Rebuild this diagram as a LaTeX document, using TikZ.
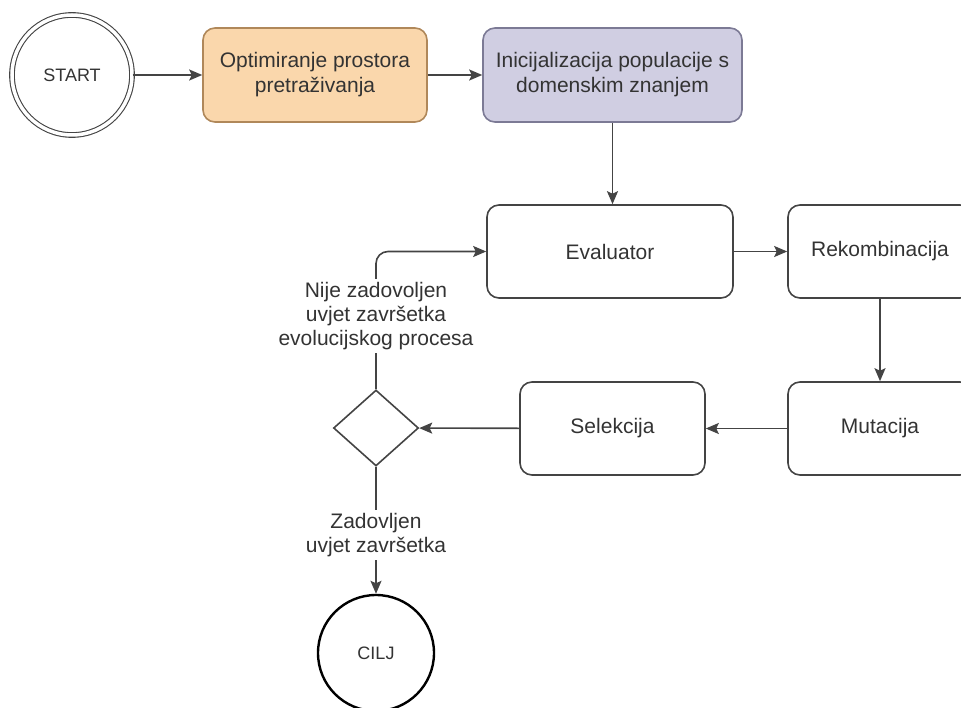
\documentclass[tikz,border=0pt]{standalone}
\usepackage{fontspec}
\setmainfont{Liberation Sans}
\usetikzlibrary{shapes.geometric,arrows.meta}
\definecolor{txt}{HTML}{333333}
\definecolor{ln}{HTML}{444444}
\definecolor{orfill}{HTML}{FAD7AC}
\definecolor{ordraw}{HTML}{B0885A}
\definecolor{pufill}{HTML}{D0CEE2}
\definecolor{pudraw}{HTML}{7C7A95}
\tikzset{
  box/.style={draw=ln, line width=1.6pt, rounded corners=12pt, minimum height=93pt, align=center, text=txt, font=\fontsize{21}{25}\selectfont, inner sep=2pt},
  arr/.style={draw=ln, line width=1.6pt, -{Stealth[length=13pt,width=11pt,inset=2.5pt]}},
  lbl/.style={fill=white, align=center, text=txt, font=\fontsize{21}{24}\selectfont, inner sep=3pt},
}
\begin{document}
\begin{tikzpicture}[x=1pt,y=-1pt]
\useasboundingbox (0,0) rectangle (961,708);
\clip (0,0) rectangle (961,708);
\node[circle, draw=ln, line width=1.1pt, double, double distance=3.5pt, minimum size=120pt, text=txt, font=\fontsize{18}{21}\selectfont] (start) at (72,75) {START};
\node[box, fill=orfill, draw=ordraw, minimum width=224pt, minimum height=94pt] (opt) at (315,75) {Optimiranje prostora\\pretraživanja};
\node[box, fill=pufill, draw=pudraw, minimum width=259pt, minimum height=94pt] (ini) at (612.5,75) {Inicijalizacija populacije s\\domenskim znanjem};
\node[box, minimum width=246pt] (eval) at (610,251.5) {Evaluator};
\node[box, minimum width=184pt] (rek) at (880,251.5) {Rekombinacija};
\node[box, minimum width=184pt] (mut) at (880,428.5) {Mutacija};
\node[box, minimum width=185pt] (sel) at (612.5,428.5) {Selekcija};
\node[diamond, draw=ln, line width=1.6pt, minimum width=85pt, minimum height=76pt, inner sep=0pt] (dia) at (376,428) {};
\node[circle, draw=black, line width=2.4pt, minimum size=116pt, text=txt, font=\fontsize{18}{21}\selectfont] (cilj) at (376,653) {CILJ};

\draw[arr] (start) -- (opt);
\draw[arr] (opt) -- (ini);
\draw[arr] (ini.south) -- (ini.south |- eval.north);
\draw[arr] (eval) -- (rek);
\draw[arr] (rek) -- (mut);
\draw[arr] (mut) -- (sel);
\draw[arr] (sel) -- (dia);
\draw[arr, rounded corners=12pt] (dia.north) |- (eval.west);
\draw[arr] (dia.south) -- (cilj.north);
\node[lbl] (l1) at (376,316) {Nije zadovoljen\\uvjet završetka\\evolucijskog procesa};
\node[lbl] (l2) at (376,535) {Zadovljen\\uvjet završetka};
\end{tikzpicture}
\end{document}
